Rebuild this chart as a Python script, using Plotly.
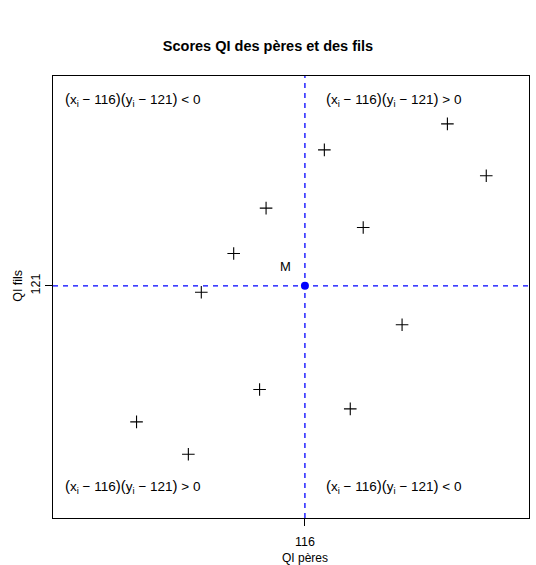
import numpy as np
import plotly.graph_objects as go

# Data: fathers' IQ (x) and sons' IQ (y)
qi_peres = [90, 98, 100, 105, 109, 110, 119, 123, 125, 131, 138, 144]
qi_fils = [100, 95, 120, 126, 105, 133, 142, 102, 130, 115, 146, 138]

mx = float(np.mean(qi_peres))
my = float(np.mean(qi_fils))

title_text = "Scores QI des pères et des fils"
x_label = "QI pères"
y_label = "QI fils"

FONT = "Liberation Sans, Arial, sans-serif"
BLUE = "#0000FF"

fig = go.Figure()

fig.add_trace(go.Scatter(
    x=qi_peres, y=qi_fils, mode="markers",
    marker=dict(symbol="cross-thin", size=9, color="black",
                line=dict(color="black", width=1.1)),
    showlegend=False, hoverinfo="skip"))

fig.add_trace(go.Scatter(
    x=[mx], y=[my], mode="markers",
    marker=dict(symbol="circle", size=8, color=BLUE),
    showlegend=False, hoverinfo="skip"))

# mean lines
fig.add_shape(type="line", xref="paper", yref="y", x0=0, x1=1, y0=my, y1=my,
              line=dict(color=BLUE, width=1.3, dash="5px,5px"), layer="below")
fig.add_shape(type="line", xref="x", yref="paper", x0=mx, x1=mx, y0=0, y1=1,
              line=dict(color=BLUE, width=1.3, dash="5px,5px"), layer="below")

def quad(sign):
    return ("<span style='font-size:15px'>(</span>x<sub>i</sub> \u2212 %d"
            "<span style='font-size:15px'>)(</span>y<sub>i</sub> \u2212 %d"
            "<span style='font-size:15px'>)</span> %s 0"
            % (round(mx), round(my), sign))

ann_font = dict(family=FONT, size=13.5, color="black")
annotations = [
    dict(text=quad("&lt;"), xref="paper", yref="paper", x=0.021, y=0.946,
         xanchor="left", yanchor="middle", showarrow=False, font=ann_font),
    dict(text=quad("&gt;"), xref="x", yref="paper", x=mx, xshift=19, y=0.946,
         xanchor="left", yanchor="middle", showarrow=False, font=ann_font),
    dict(text=quad("&gt;"), xref="paper", yref="paper", x=0.021, y=0.071,
         xanchor="left", yanchor="middle", showarrow=False, font=ann_font),
    dict(text=quad("&lt;"), xref="x", yref="paper", x=mx, xshift=19, y=0.071,
         xanchor="left", yanchor="middle", showarrow=False, font=ann_font),
    dict(text="M", xref="x", yref="y", x=mx, y=my, xshift=-19, yshift=19,
         showarrow=False, font=dict(family=FONT, size=13, color="black")),
    dict(text=x_label, xref="x", yref="paper", x=mx, y=0, yshift=-40,
         yanchor="middle", showarrow=False,
         font=dict(family=FONT, size=12, color="black")),
    dict(text=y_label, xref="paper", yref="y", x=0, y=my, xshift=-35,
         xanchor="center", textangle=-90, showarrow=False,
         font=dict(family=FONT, size=12.5, color="black")),
]

fig.update_layout(
    width=536, height=565,
    margin=dict(l=53, r=7, t=76, b=47, pad=0),
    paper_bgcolor="white", plot_bgcolor="white",
    title=dict(text="<b>%s</b>" % title_text, x=0.5, xanchor="center",
               y=1 - 46 / 565, yanchor="middle",
               font=dict(family=FONT, size=14.5, color="black")),
    xaxis=dict(range=[77.1, 150.6], showgrid=False, zeroline=False,
               showline=True, mirror=True, linecolor="black", linewidth=1.3,
               ticks="outside", ticklen=7, tickcolor="black", tickwidth=1.2,
               tickvals=[mx], ticktext=["%d" % round(mx)],
               ticklabelstandoff=5,
               tickfont=dict(family=FONT, size=12.5, color="black")),
    yaxis=dict(range=[85.15, 153.4], showgrid=False, zeroline=False,
               showline=True, mirror=True, linecolor="black", linewidth=1.3,
               ticks="outside", ticklen=7, tickcolor="black", tickwidth=1.2,
               tickvals=[my], ticktext=["%d" % round(my)], tickangle=-90,
               tickfont=dict(family=FONT, size=12.5, color="black")),
    annotations=annotations,
)

fig.write_html("out.html")
